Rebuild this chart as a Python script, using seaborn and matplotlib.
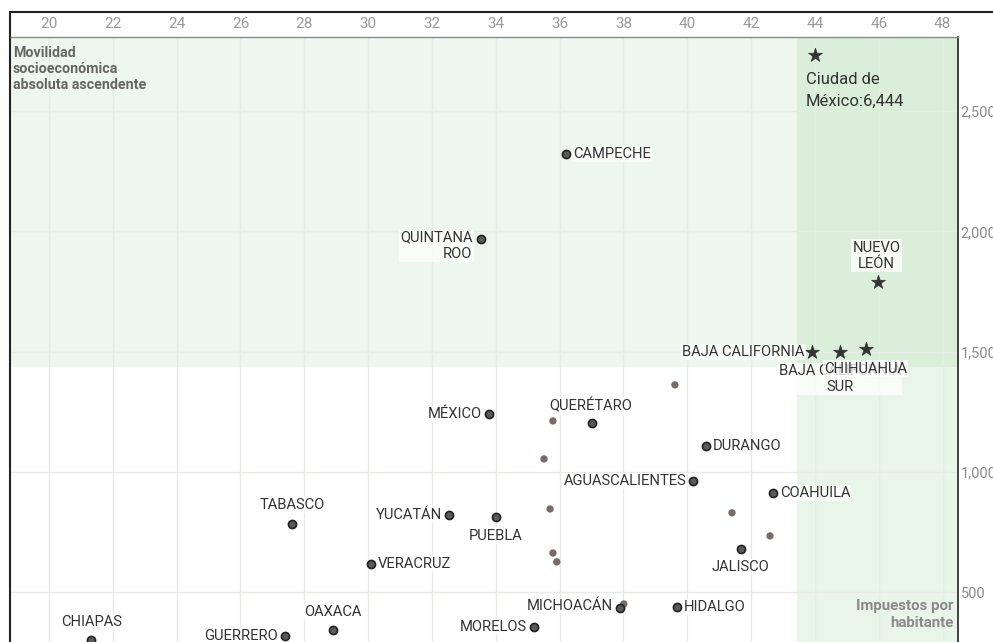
import matplotlib
matplotlib.use("Agg")
import matplotlib.pyplot as plt
from matplotlib import font_manager
from matplotlib.lines import Line2D
import pandas as pd
import seaborn as sns

# Estados con etiqueta (punto)
estados = ["CAMPECHE", "QUINTANA\nROO", "MÉXICO", "QUERÉTARO", "DURANGO",
           "AGUASCALIENTES", "COAHUILA", "TABASCO", "YUCATÁN", "PUEBLA",
           "VERACRUZ", "JALISCO", "MICHOACÁN", "HIDALGO", "MORELOS",
           "OAXACA", "GUERRERO", "CHIAPAS"]
movilidad = [36.20, 33.53, 33.78, 37.01, 40.58, 40.18, 42.68, 27.61, 32.53,
             34.00, 30.09, 41.68, 37.89, 39.67, 35.19, 28.90, 27.39, 21.32]
impuestos = [2322, 1968, 1241, 1204, 1108, 963, 913, 784, 821,
             813, 618, 680, 435, 439, 356, 343, 318, 302]

# Estados con estrella
estrellas = ["Ciudad de\nMéxico:6,444", "NUEVO\nLEÓN", "BAJA CALIFORNIA",
             "BAJA CALIFORNIA\nSUR", "CHIHUAHUA"]
estrellas_x = [44.00, 45.97, 43.90, 44.78, 45.59]
estrellas_y = [6444, 1790, 1499, 1499, 1511]

# Puntos sin etiqueta
otros_x = [39.61, 35.79, 35.51, 35.70, 35.79, 35.91, 41.40, 42.59, 38.01]
otros_y = [1362, 1212, 1054, 846, 663, 626, 830, 734, 451]

x_ticks = list(range(20, 49, 2))
y_ticks = [500, 1000, 1500, 2000, 2500]
franja_y = 1436      # limite inferior de la franja verde horizontal
columna_x = 43.45    # limite izquierdo de la columna verde

XLIM = (18.78, 48.48)
YLIM = (293, 2808)
TOPE = 2733  # valores fuera de escala se dibujan en el borde superior

sns.set_style("white")
installed = {f.name for f in font_manager.fontManager.ttflist}
narrow = "Liberation Sans Narrow" if "Liberation Sans Narrow" in installed else "Roboto"
plt.rcParams["font.family"] = ["Roboto", "DejaVu Sans"]

df = pd.DataFrame({"x": movilidad, "y": impuestos, "estado": estados})
df_est = pd.DataFrame({"x": estrellas_x, "y": [min(v, TOPE) for v in estrellas_y],
                       "estado": estrellas})
df_otros = pd.DataFrame({"x": otros_x, "y": otros_y})

fig = plt.figure(figsize=(9.93, 6.42), dpi=100)
ax = fig.add_axes([10 / 993, 0, 948 / 993, 605 / 642])

verde = "#5cb85c"
ax.axhspan(franja_y, YLIM[1], color=verde, alpha=0.11, lw=0, zorder=0)
ax.axvspan(columna_x, XLIM[1], color=verde, alpha=0.13, lw=0, zorder=0)

for xt in x_ticks:
    ax.axvline(xt, color="#e6ebe6", lw=1, zorder=0.5)
for yt in y_ticks:
    ax.axhline(yt, color="#e6ebe6", lw=1, zorder=0.5)

sns.scatterplot(data=df_otros, x="x", y="y", ax=ax, s=28, color="#7a6a6a",
                edgecolor="none", zorder=3)
sns.scatterplot(data=df, x="x", y="y", ax=ax, s=34, color="#5a5a5a",
                edgecolor="#222222", linewidth=1.2, zorder=4)
sns.scatterplot(data=df_est, x="x", y="y", ax=ax, s=110, marker="*",
                color="#333333", edgecolor="#333333", linewidth=0.5, zorder=4)

# posicion de etiquetas (desplazamiento en puntos, alineacion)
pos = {
    "CAMPECHE": (5, 0, "left", "center"),
    "QUINTANA\nROO": (-6, 6, "right", "top"),
    "MÉXICO": (-5, 0, "right", "center"),
    "QUERÉTARO": (-1, 12, "center", "center"),
    "DURANGO": (5, 0, "left", "center"),
    "AGUASCALIENTES": (-5, 0, "right", "center"),
    "COAHUILA": (5, 0, "left", "center"),
    "TABASCO": (0, 13.5, "center", "center"),
    "YUCATÁN": (-5, 0, "right", "center"),
    "PUEBLA": (0, -13.5, "center", "center"),
    "VERACRUZ": (5, 0, "left", "center"),
    "JALISCO": (0, -13, "center", "center"),
    "MICHOACÁN": (-5, 1, "right", "center"),
    "HIDALGO": (5, 0, "left", "center"),
    "MORELOS": (-5, 0, "right", "center"),
    "OAXACA": (0, 13, "center", "center"),
    "GUERRERO": (-5, 0, "right", "center"),
    "CHIAPAS": (0, 13, "center", "center"),
    "NUEVO\nLEÓN": (-1, 8, "center", "bottom"),
    "BAJA CALIFORNIA": (-5, 0, "right", "center"),
    "BAJA CALIFORNIA\nSUR": (0, -8.5, "center", "top"),
    "CHIHUAHUA": (0, -9, "center", "top"),
}
caja = dict(boxstyle="square,pad=0.08", fc="white", ec="none", alpha=0.75)

for _, r in pd.concat([df, df_est.iloc[1:]]).iterrows():
    dx, dy, ha, va = pos[r["estado"]]
    ax.annotate(r["estado"], (r["x"], r["y"]), xytext=(dx, dy),
                textcoords="offset points", ha=ha, va=va, fontsize=10.6,
                color="#333333", family=[narrow, "DejaVu Sans"],
                linespacing=1.2, bbox=caja, zorder=5)

cdmx = df_est.iloc[0]
ax.annotate(cdmx["estado"], (cdmx["x"], cdmx["y"]), xytext=(-6.5, -12),
            textcoords="offset points", ha="left", va="top", fontsize=12,
            color="#333333", linespacing=1.6, zorder=5)

ax.text(0.003, 0.985, "Movilidad\nsocioeconómica\nabsoluta ascendente",
        transform=ax.transAxes, ha="left", va="top", fontsize=10.3,
        color="#666666", fontweight="semibold", linespacing=1.2)
ax.text(0.995, 0.02, "Impuestos por\nhabitante", transform=ax.transAxes,
        ha="right", va="bottom", fontsize=10.8, color="#8a8a8a",
        fontweight="semibold", multialignment="right", linespacing=1.3)

ax.set_xlim(*XLIM)
ax.set_ylim(*YLIM)
ax.set_xticks(x_ticks)
ax.set_yticks(y_ticks)
ax.set_yticklabels([f"{v:,}" for v in y_ticks])
ax.xaxis.tick_top()
ax.yaxis.tick_right()
ax.tick_params(axis="x", length=0, pad=4, labelsize=11, labelcolor="#9a9a9a")
ax.tick_params(axis="y", length=0, pad=2, labelsize=10.5, labelcolor="#8a8a8a")
for lab in ax.get_xticklabels():
    lab.set_family([narrow, "DejaVu Sans"])
ax.set_xlabel("")
ax.set_ylabel("")

ax.spines["bottom"].set_visible(False)
ax.spines["top"].set_color("#8a8a8a")
ax.spines["top"].set_linewidth(1)
ax.spines["left"].set_color("#222222")
ax.spines["left"].set_linewidth(1.5)
ax.spines["right"].set_color("#222222")
ax.spines["right"].set_linewidth(1.2)

# marco exterior superior
fig.add_artist(Line2D([10 / 993, 1], [1 - 12 / 642] * 2, color="#222222", lw=1.5))
fig.add_artist(Line2D([10 / 993] * 2, [1 - 12 / 642, 605 / 642], color="#222222", lw=1.5))

fig.savefig("out.png", dpi=100)
